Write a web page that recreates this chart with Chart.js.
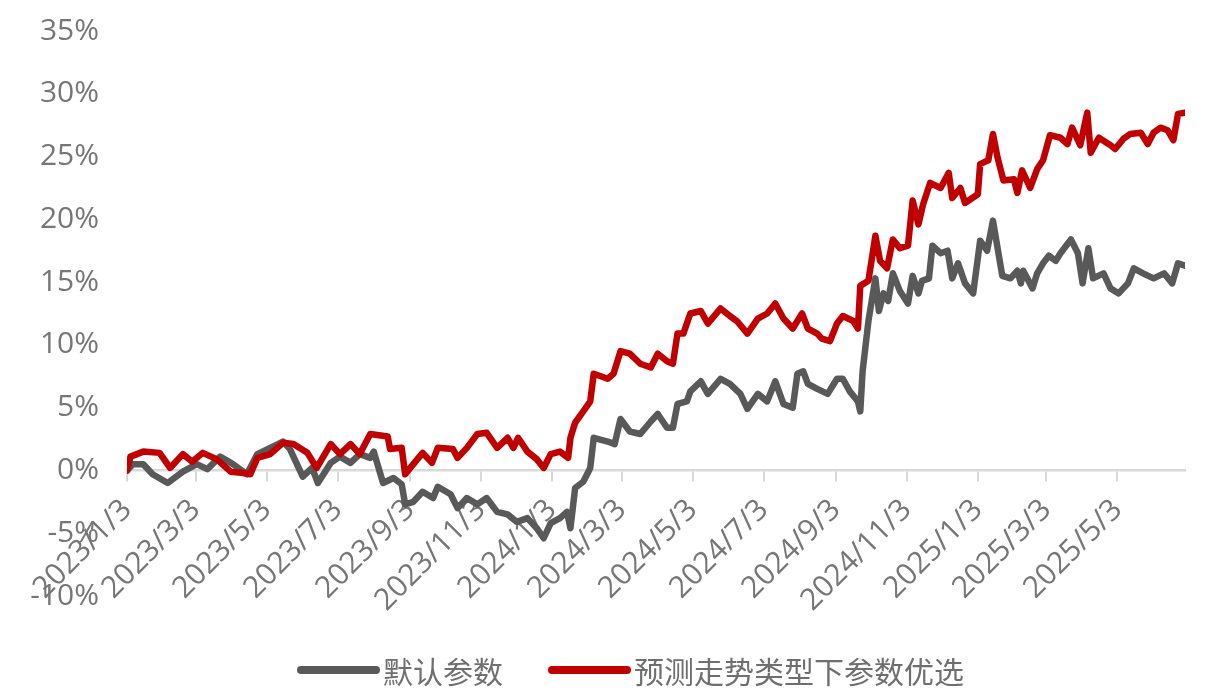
<!DOCTYPE html>
<html>
<head>
<meta charset="utf-8">
<script src="https://cdn.jsdelivr.net/npm/chart.js@4.4.1/dist/chart.umd.min.js"></script>
<style>
  html, body { margin: 0; padding: 0; background: #ffffff; }
  #wrap { position: relative; width: 1206px; height: 699px; overflow: hidden; }
  #c { position: absolute; left: 0; top: 0; }
  .leg { position: absolute; top: 652px; display: flex; align-items: center; height: 36px;
         font-family: 'Open Sans', 'Noto Sans CJK SC', sans-serif; font-size: 30px; color: #6f6f6f; white-space: nowrap; }
  .leg .sw { display: inline-block; width: 83px; height: 8px; border-radius: 4px; margin-right: 3px; }
  .leg span.t { font-family: 'Noto Sans CJK SC', sans-serif; line-height: 36px; }
</style>
</head>
<body>
<div id="wrap">
  <canvas id="c" width="1206" height="699"></canvas>
  <div class="leg" id="leg1" style="left:297px;"><span class="sw" style="background:#595959"></span><span class="t">默认参数</span></div>
  <div class="leg" id="leg2" style="left:548px;"><span class="sw" style="background:#c00000"></span><span class="t">预测走势类型下参数优选</span></div>
</div>
<script>
// Series names
const seriesNames = ['默认参数', '预测走势类型下参数优选'];

// X tick labels (every two months)
const xTickLabels = ['2023/1/3','2023/3/3','2023/5/3','2023/7/3','2023/9/3','2023/11/3','2024/1/3',
  '2024/3/3','2024/5/3','2024/7/3','2024/9/3','2024/11/3','2025/1/3','2025/3/3','2025/5/3'];

// Y ticks (percent)
const yMin = -10, yMax = 35, yStep = 5;

// Calendar days since 2023/1/3 and cumulative return (%) — 默认参数
const grayDays = [0,5,14,22,35,48,60,69,80,91,103,112,123,134,140,151,159,164,175,183,192,200,209,212,220,229,236,239,246,254,263,267,278,284,292,301,309,318,327,335,344,352,358,364,372,378,381,385,392,398,401,413,419,424,432,441,450,456,464,469,473,481,484,493,499,510,518,527,533,542,550,557,564,572,576,581,585,593,602,610,615,621,628,630,632,637,643,646,650,654,658,664,671,675,680,683,689,692,699,705,709,714,720,727,733,739,744,748,752,759,765,768,770,778,782,787,792,798,802,811,817,821,826,830,839,845,852,860,865,873,882,891,898,903,909];
const grayValues = [0.0,0.5,0.5,-0.3,-1.0,-0.1,0.5,0.1,1.1,0.5,-0.3,1.3,1.8,2.3,1.7,-0.5,0.2,-1.0,0.6,1.1,0.6,1.3,1.0,1.5,-1.0,-0.6,-1.1,-2.7,-2.5,-1.7,-2.2,-1.3,-1.9,-3.0,-2.2,-2.7,-2.2,-3.3,-3.5,-4.1,-3.8,-4.6,-5.4,-4.2,-3.8,-3.3,-4.6,-1.4,-0.9,0.2,2.6,2.3,2.1,4.1,3.1,2.9,3.9,4.5,3.4,3.4,5.3,5.5,6.3,7.1,6.1,7.3,6.9,6.1,4.9,6.1,5.5,7.1,5.3,5.0,7.7,7.9,6.9,6.5,6.1,7.3,7.3,6.3,5.5,4.7,7.9,11.9,15.3,12.7,14.1,13.5,15.7,14.3,13.3,15.5,14.1,15.1,15.3,17.9,17.3,17.5,15.3,16.5,14.9,14.1,18.3,17.5,19.9,17.7,15.5,15.3,15.9,14.9,15.9,14.5,15.7,16.5,17.1,16.7,17.3,18.4,17.3,14.9,17.7,15.3,15.7,14.5,14.1,14.9,16.1,15.7,15.3,15.7,14.9,16.5,16.3];

// Calendar days since 2023/1/3 and cumulative return (%) — 预测走势类型下参数优选
const redDays = [0,3,14,28,37,48,56,65,77,89,100,106,112,123,134,143,155,163,175,183,192,200,209,224,226,236,239,246,254,262,267,280,284,292,301,309,318,327,332,336,344,352,358,364,372,379,381,385,392,398,401,413,418,424,432,441,450,456,464,469,473,478,484,493,499,510,518,524,533,542,550,557,564,572,580,585,593,597,604,610,615,624,628,630,637,643,647,653,658,664,671,675,680,684,690,699,706,709,716,720,731,733,740,744,748,753,762,765,769,776,782,787,793,802,808,812,819,825,828,835,845,849,856,862,871,877,882,888,894,899,903,909];
const redValues = [0.0,1.1,1.5,1.4,0.2,1.3,0.7,1.4,0.9,-0.1,-0.2,-0.3,1.0,1.3,2.2,2.1,1.4,0.2,2.1,1.3,2.1,1.3,2.9,2.7,1.7,1.8,-0.3,0.5,1.4,0.6,1.8,1.7,1.0,1.8,2.9,3.0,1.8,2.6,1.8,2.6,1.5,0.9,0.2,1.3,1.5,1.0,2.6,3.8,4.7,5.5,7.7,7.3,7.7,9.5,9.3,8.5,8.2,9.3,8.7,8.5,10.9,10.9,12.5,12.7,11.7,12.9,12.3,11.9,10.9,12.1,12.5,13.3,12.1,11.3,12.5,11.3,10.9,10.5,10.3,11.7,12.3,11.9,11.3,14.7,15.1,18.7,16.7,16.1,18.4,17.7,17.9,21.5,19.6,21.2,22.9,22.5,23.7,21.7,22.5,21.3,22.0,24.4,24.7,26.8,24.9,23.1,23.2,22.1,23.9,22.5,24.0,24.7,26.7,26.5,26.0,27.3,25.9,28.5,25.3,26.5,25.9,25.6,26.4,26.8,26.9,26.0,26.9,27.3,27.1,26.3,28.4,28.5];

const lastDay = 909;
const startUTC = Date.UTC(2023, 0, 3);
function labelToDay(s) {
  const p = s.split('/').map(Number);
  return Math.round((Date.UTC(p[0], p[1] - 1, p[2]) - startUTC) / 86400000);
}
const xTickDays = xTickLabels.map(labelToDay);
const dayToLabel = {};
xTickDays.forEach((d, i) => { dayToLabel[d] = xTickLabels[i]; });

const toPoints = (days, vals) => days.map((d, i) => ({ x: d, y: vals[i] }));

const tickFont = { family: "'Open Sans', 'Noto Sans CJK SC', sans-serif", size: 30 };
const xFont = { family: "'Open Sans', 'Noto Sans CJK SC', sans-serif", size: 30 };
const tickColor = '#767676';

function zeroPad(scale) {
  scale.paddingTop = 0; scale.paddingBottom = 0; scale.paddingLeft = 0; scale.paddingRight = 0;
}

new Chart(document.getElementById('c'), {
  type: 'line',
  data: {
    datasets: [
      { label: seriesNames[0], data: toPoints(grayDays, grayValues), borderColor: '#595959', backgroundColor: '#595959',
        borderWidth: 6.5, pointRadius: 0, tension: 0, borderJoinStyle: 'round', borderCapStyle: 'round', order: 2 },
      { label: seriesNames[1], data: toPoints(redDays, redValues), borderColor: '#c00000', backgroundColor: '#c00000',
        borderWidth: 6.5, pointRadius: 0, tension: 0, borderJoinStyle: 'round', borderCapStyle: 'round', order: 1 }
    ]
  },
  options: {
    responsive: false,
    animation: false,
    layout: { padding: { left: 0, top: 31, right: 21, bottom: 103 } },
    plugins: { legend: { display: false }, tooltip: { enabled: false } },
    scales: {
      x: {
        type: 'linear',
        position: { y: 0 },
        min: 0, max: lastDay,
        afterBuildTicks: (scale) => { scale.ticks = xTickDays.map(v => ({ value: v })); },
        afterFit: zeroPad,
        ticks: {
          autoSkip: false, minRotation: 45, maxRotation: 45, padding: 12,
          color: tickColor, font: xFont,
          callback: (v) => dayToLabel[v] || ''
        },
        grid: { drawOnChartArea: false, drawTicks: true, tickLength: 10, color: '#d9d9d9', lineWidth: 2 },
        border: { display: true, color: '#d9d9d9', width: 2.5 }
      },
      y: {
        min: yMin, max: yMax,
        afterFit: (scale) => { scale.width = 127; zeroPad(scale); },
        ticks: { stepSize: yStep, padding: 28, color: tickColor, font: tickFont, callback: (v) => v + '%' },
        grid: { display: false, drawTicks: false },
        border: { display: false }
      }
    }
  }
});
</script>
</body>
</html>
